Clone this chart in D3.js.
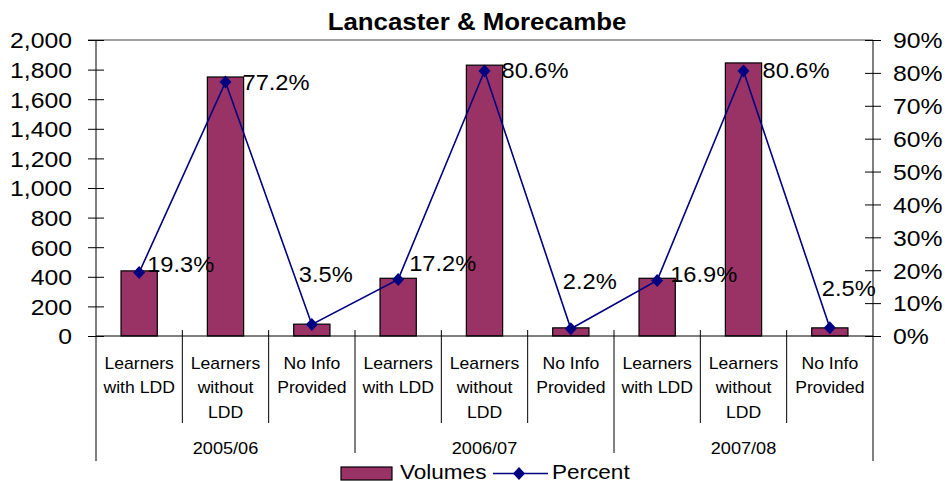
<!DOCTYPE html>
<html>
<head>
<meta charset="utf-8">
<script src="https://cdn.jsdelivr.net/npm/d3@7"></script>
<style>
  body { margin: 0; background: #fff; }
  svg { display: block; font-family: "Liberation Sans", Arial, sans-serif; }
</style>
</head>
<body>
<div id="chart"></div>
<script>
// Lancaster & Morecambe - volumes (bars) and percent (line) per year

var years = ['2005/06', '2006/07', '2007/08'];
var groups = ['Learners with LDD', 'Learners without LDD', 'No Info Provided'];
var groupLines = [['Learners', 'with LDD'], ['Learners', 'without', 'LDD'], ['No Info', 'Provided']];
var volumes = [440, 1750, 80, 390, 1830, 55, 390, 1845, 55];
var percents = [19.3, 77.2, 3.5, 17.2, 80.6, 2.2, 16.9, 80.6, 2.5];
var volumeTicks = [0, 200, 400, 600, 800, 1000, 1200, 1400, 1600, 1800, 2000];
var percentTicks = [0, 10, 20, 30, 40, 50, 60, 70, 80, 90];

// hand placed label offsets from the markers (as in the original sheet)
var labelOffsets = [[8, -8], [17, 0], [-13, -50], [11, -16], [17, 0], [-8, -47], [13, -6], [19, 0], [-8, -39]];

var W = 945, H = 481;
var plotL = 96, plotR = 873, plotT = 40, plotB = 336;
var stretch = 1.1;
var barColor = '#993366', lineColor = '#000080';

var svg = d3.select('#chart').append('svg')
    .attr('width', W)
    .attr('height', H);

var rows = [];
years.forEach(function(yr, i){
    groups.forEach(function(g, j){
        var k = i * groups.length + j;
        rows.push({ key: yr + '|' + g, year: yr, lines: groupLines[j], vol: volumes[k], pct: percents[k], off: labelOffsets[k] });
    });
});

var x = d3.scaleBand()
    .domain(rows.map(function(d){ return d.key; }))
    .range([plotL, plotR])
    .paddingInner(0.58)
    .paddingOuter(0.29);

var step = x.step();

var y = d3.scaleLinear().domain([0, 2000]).range([plotB, plotT]);
var yPct = d3.scaleLinear().domain([0, 90]).range([plotB, plotT]);

function cx(d){ return x(d.key) + x.bandwidth() / 2; }

// plot area border (only top shows)
svg.append('line')
    .attr('x1', plotL - 8).attr('x2', plotR)
    .attr('y1', plotT).attr('y2', plotT)
    .attr('stroke', '#808080')
    .attr('stroke-width', 1.5);

// bars
svg.append('g').selectAll('rect')
    .data(rows)
    .enter()
    .append('rect')
        .attr('x', function(d){ return x(d.key); })
        .attr('y', function(d){ return y(d.vol); })
        .attr('width', x.bandwidth())
        .attr('height', function(d){ return y(0) - y(d.vol); })
        .attr('fill', barColor)
        .attr('stroke', '#000')
        .attr('stroke-width', 1.2);

// left axis
var gLeft = svg.append('g')
    .attr('transform', 'translate(' + plotL + ',0)')
    .call(d3.axisLeft(y).tickValues(volumeTicks).tickSize(8).tickFormat(d3.format(',')));
gLeft.select('.domain').remove();
gLeft.selectAll('.tick line').attr('x1', 8);
gLeft.selectAll('.tick text')
    .attr('x', null)
    .attr('dy', '0.35em')
    .attr('transform', 'translate(-24,0) scale(' + stretch + ',1)')
    .attr('font-size', 22.5)
    .attr('font-family', null)
    .attr('fill', '#000');

// right axis
var gRight = svg.append('g')
    .attr('transform', 'translate(' + plotR + ',0)')
    .call(d3.axisRight(yPct).tickValues(percentTicks).tickSize(8).tickFormat(function(d){ return d + '%'; }));
gRight.select('.domain').remove();
gRight.selectAll('.tick line').attr('x1', -8);
gRight.selectAll('.tick text')
    .attr('x', null)
    .attr('dy', '0.35em')
    .attr('transform', 'translate(20,0) scale(' + stretch + ',1)')
    .attr('font-size', 22.5)
    .attr('font-family', null)
    .attr('fill', '#000');

// axis lines, extended down through the category label area
var axes = svg.append('g').attr('stroke', '#000').attr('stroke-width', 1);
axes.append('line').attr('x1', plotL).attr('x2', plotL).attr('y1', plotT).attr('y2', 461);
axes.append('line').attr('x1', plotR).attr('x2', plotR).attr('y1', plotT).attr('y2', 461);
axes.append('line').attr('x1', plotL).attr('x2', plotR).attr('y1', plotB).attr('y2', plotB);

// dividers between categories and between years
rows.forEach(function(d, i){
    if (i === 0) return;
    var bx = x(d.key) - x.paddingInner() * step / 2;
    var isYear = i % groups.length === 0;
    axes.append('line')
        .attr('x1', bx).attr('x2', bx)
        .attr('y1', plotB - 6)
        .attr('y2', isYear ? 453 : 423);
});

// category labels
var cat = svg.append('g').attr('font-size', 16).attr('fill', '#000').attr('text-anchor', 'middle');
rows.forEach(function(d){
    d.lines.forEach(function(t, li){
        cat.append('text')
            .attr('transform', 'translate(' + cx(d) + ',' + (369 + li * 24.3) + ') scale(' + stretch + ',1)')
            .text(t);
    });
});

// year labels
years.forEach(function(yr, i){
    var first = rows[i * groups.length], last = rows[i * groups.length + groups.length - 1];
    var mid = (cx(first) + cx(last)) / 2;
    cat.append('text')
        .attr('font-size', 16.5)
        .attr('transform', 'translate(' + mid + ',454) scale(' + stretch + ',1)')
        .text(yr);
});

// percent line
var line = d3.line()
    .x(cx)
    .y(function(d){ return yPct(d.pct); });

svg.append('path')
    .datum(rows)
    .attr('d', line)
    .attr('fill', 'none')
    .attr('stroke', lineColor)
    .attr('stroke-width', 1.6);

var diamond = 'M0,-6.5L6,0L0,6.5L-6,0Z';

svg.append('g').selectAll('path')
    .data(rows)
    .enter()
    .append('path')
        .attr('d', diamond)
        .attr('transform', function(d){ return 'translate(' + cx(d) + ',' + yPct(d.pct) + ')'; })
        .attr('fill', lineColor);

// data labels
svg.append('g').selectAll('text')
    .data(rows)
    .enter()
    .append('text')
        .attr('font-size', 21.5)
        .attr('dy', '0.35em')
        .attr('transform', function(d){
            return 'translate(' + (cx(d) + d.off[0]) + ',' + (yPct(d.pct) + d.off[1]) + ') scale(' + stretch + ',1)';
        })
        .text(function(d){ return d.pct.toFixed(1) + '%'; });

// title
svg.append('text')
    .attr('font-size', 23.5)
    .attr('font-weight', 'bold')
    .attr('text-anchor', 'middle')
    .attr('transform', 'translate(477,30) scale(' + stretch + ',1)')
    .text('Lancaster & Morecambe');

// legend
var leg = svg.append('g');
leg.append('rect')
    .attr('x', 341).attr('y', 467)
    .attr('width', 51).attr('height', 13)
    .attr('fill', barColor)
    .attr('stroke', '#000')
    .attr('stroke-width', 1.2);
leg.append('text')
    .attr('font-size', 20.5)
    .attr('transform', 'translate(400,479) scale(' + stretch + ',1)')
    .text('Volumes');
leg.append('line')
    .attr('x1', 493).attr('x2', 548)
    .attr('y1', 473.5).attr('y2', 473.5)
    .attr('stroke', lineColor)
    .attr('stroke-width', 1.6);
leg.append('path')
    .attr('d', diamond)
    .attr('transform', 'translate(519,473.5)')
    .attr('fill', lineColor);
leg.append('text')
    .attr('font-size', 20.5)
    .attr('transform', 'translate(552,479) scale(' + stretch + ',1)')
    .text('Percent');
</script>
</body>
</html>
